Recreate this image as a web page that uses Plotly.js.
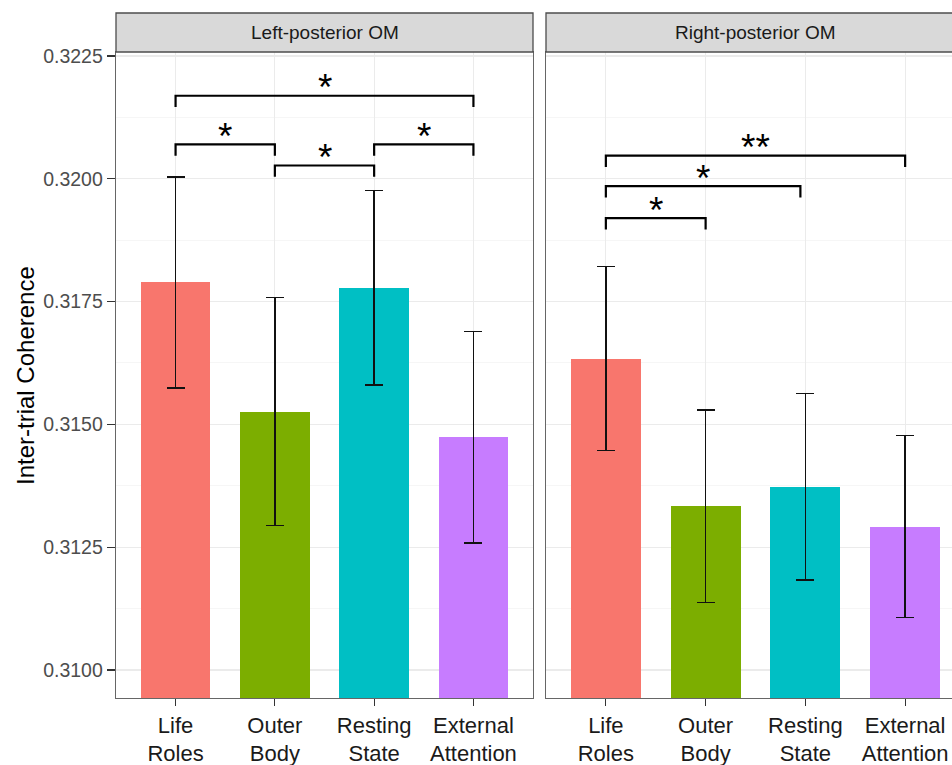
<!DOCTYPE html>
<html>
<head>
<meta charset="utf-8">
<script src="https://cdn.plot.ly/plotly-3.0.1.min.js"></script>
<style>
  html, body { margin: 0; padding: 0; overflow: hidden; background: #fff; }
  #chart { width: 975px; height: 790px; }
</style>
</head>
<body>
<div id="chart"></div>
<script>
// ---- data ----
const categories = ["Life Roles", "Outer Body", "Resting State", "External Attention"];
const tickLabels = ["Life<br>Roles", "Outer<br>Body", "Resting<br>State", "External<br>Attention"];
const panelNames = ["Left-posterior OM", "Right-posterior OM"];
const leftMeans  = [0.31789, 0.31526, 0.31778, 0.31474];
const leftErr    = [0.00215, 0.00232, 0.00198, 0.00215];
const rightMeans = [0.31634, 0.31333, 0.31373, 0.31292];
const rightErr   = [0.00187, 0.00196, 0.00190, 0.00185];
const barColors  = ["#F8766D", "#7CAE00", "#00BFC4", "#C77CFF"];
// significance brackets (category positions 1..4)
const leftBrFrom  = [1, 1, 2, 3];
const leftBrTo    = [4, 2, 3, 4];
const leftBrY     = [0.32169, 0.32070, 0.32027, 0.32070];
const leftBrLabel = ["*", "*", "*", "*"];
const rightBrFrom  = [1, 1, 1];
const rightBrTo    = [4, 2.95, 2];
const rightBrY     = [0.32047, 0.31985, 0.31920];
const rightBrLabel = ["**", "*", "*"];

// ---- layout constants ----
const W = 975, H = 790;
const mL = 116, mR = 10, mT = 52, mB = 92;
const plotW = W - mL - mR, plotH = H - mT - mB;
const leftDom = [0, (533 - mL) / plotW];
const rightDom = [(546 - mL) / plotW, 1];
const yRange = [0.30943, 0.322581];
const drop = 0.00023;
const font = "Liberation Sans, Arial, sans-serif";
const xpos = categories.map((c, i) => i + 1);

const traces = [];
function addPanel(means, errs, xa, ya) {
  traces.push({
    type: "bar", x: xpos, y: means, base: 0, width: 0.7,
    marker: { color: barColors, line: { width: 0 } },
    xaxis: xa, yaxis: ya, showlegend: false, hoverinfo: "skip",
    error_y: { type: "data", array: errs, visible: true, color: "#111", thickness: 1.5, width: 9 }
  });
}
addPanel(leftMeans, leftErr, "x", "y");
addPanel(rightMeans, rightErr, "x2", "y2");

const annotations = [];
function addBrackets(from, to, ys, labels, xa, ya) {
  for (let i = 0; i < from.length; i++) {
    traces.push({
      type: "scatter", mode: "lines",
      x: [from[i], from[i], to[i], to[i]],
      y: [ys[i] - drop, ys[i], ys[i], ys[i] - drop],
      line: { color: "#000", width: 2.2 },
      xaxis: xa, yaxis: ya, showlegend: false, hoverinfo: "skip"
    });
    annotations.push({
      x: (from[i] + to[i]) / 2, y: ys[i], xref: xa, yref: ya,
      text: labels[i], showarrow: false, xanchor: "center", yanchor: "middle", yshift: 8,
      font: { family: font, size: 37, color: "#000" }
    });
  }
}
addBrackets(leftBrFrom, leftBrTo, leftBrY, leftBrLabel, "x", "y");
addBrackets(rightBrFrom, rightBrTo, rightBrY, rightBrLabel, "x2", "y2");

// strips
const stripTop = 1 + (mT - 13) / plotH;
const shapes = [];
[leftDom, rightDom].forEach((d, i) => {
  shapes.push({ type: "rect", xref: "paper", yref: "paper", x0: d[0], x1: d[1], y0: 1, y1: stripTop,
    fillcolor: "#D9D9D9", line: { color: "#4d4d4d", width: 1.3 }, layer: "above" });
  annotations.push({ xref: "paper", yref: "paper", x: (d[0] + d[1]) / 2, y: (1 + stripTop) / 2,
    text: panelNames[i], showarrow: false, xanchor: "center", yanchor: "middle",
    font: { family: font, size: 19, color: "#1A1A1A" } });
});
// y title
annotations.push({ xref: "paper", yref: "paper", x: (25 - mL) / plotW, y: 0.5 + (mT + plotH / 2 - 376) / plotH,
  text: "Inter-trial Coherence", textangle: -90, showarrow: false, xanchor: "center", yanchor: "middle",
  font: { family: font, size: 24, color: "#000" } });

const xBase = {
  range: [0.4, 4.6], tickvals: xpos, ticktext: tickLabels, ticks: "outside", ticklen: 7,
  tickcolor: "#333", tickwidth: 1.2, showgrid: true, gridcolor: "#EBEBEB", gridwidth: 1.2,
  showline: true, linecolor: "#666", linewidth: 1.3, mirror: true, zeroline: false,
  tickfont: { family: font, size: 22, color: "#1A1A1A" }, fixedrange: true
};
const yBase = {
  range: yRange, tick0: 0.31, dtick: 0.0025, tickformat: ".4f", ticks: "outside", ticklen: 8,
  tickcolor: "#333", tickwidth: 1.2, showgrid: true, gridcolor: "#EBEBEB", gridwidth: 1.2,
  minor: { dtick: 0.00125, tick0: 0.31, showgrid: true, gridcolor: "#F2F2F2", gridwidth: 0.7, ticks: "" },
  showline: true, linecolor: "#666", linewidth: 1.3, mirror: true, zeroline: false,
  tickfont: { family: font, size: 19.5, color: "#4D4D4D" }, fixedrange: true
};

const layout = {
  width: W, height: H,
  margin: { l: mL, r: mR, t: mT, b: mB },
  paper_bgcolor: "#fff", plot_bgcolor: "#fff",
  xaxis: Object.assign({}, xBase, { domain: leftDom, anchor: "y" }),
  xaxis2: Object.assign({}, xBase, { domain: rightDom, anchor: "y2" }),
  yaxis: Object.assign({}, yBase, { anchor: "x" }),
  yaxis2: Object.assign({}, yBase, { anchor: "x2", matches: "y", showticklabels: false, ticks: "" }),
  shapes: shapes, annotations: annotations, showlegend: false, bargap: 0
};

Plotly.newPlot("chart", traces, layout, { displayModeBar: false, staticPlot: true });
</script>
</body>
</html>
